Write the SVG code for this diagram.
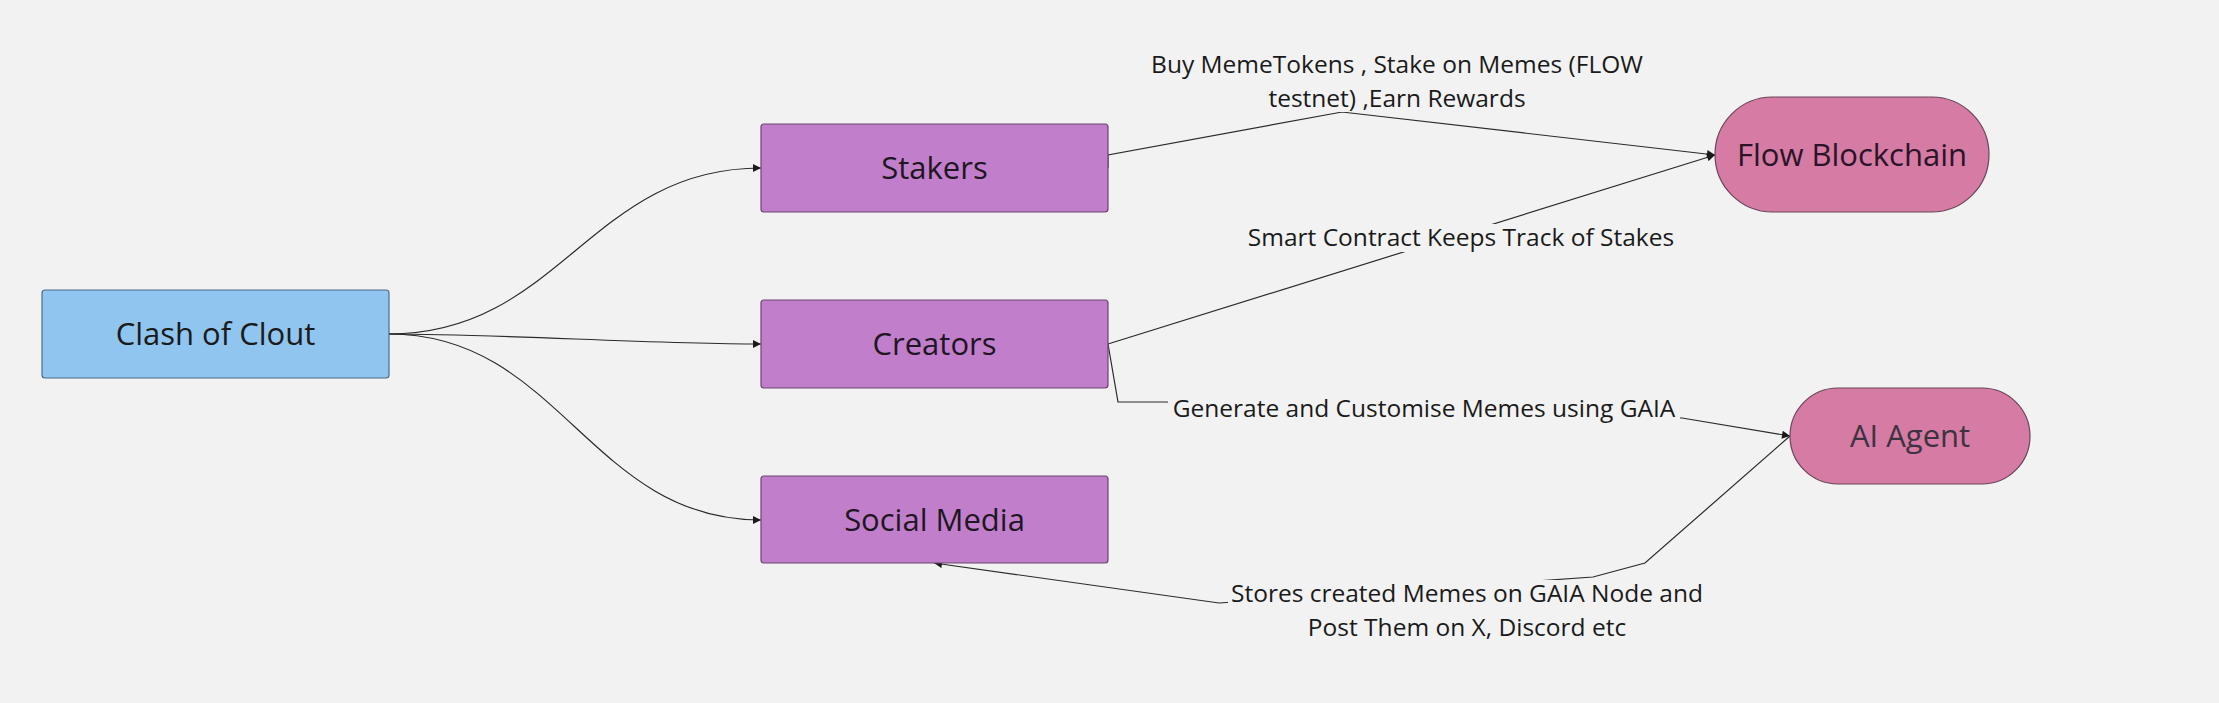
<svg xmlns="http://www.w3.org/2000/svg" width="2219" height="703" viewBox="0 0 2219 703">
<style>
.bg{fill:#f2f2f2}
.node text{font-family:"Open Sans","Noto Sans",sans-serif;font-size:31px;text-anchor:middle}
.lbl{font-family:"Open Sans","Noto Sans",sans-serif;font-size:24.5px;fill:#1a1a1a;text-anchor:middle}
.lblbg{fill:#f2f2f2}
.edge{fill:none;stroke:#2a2a2a;stroke-width:1.2}
.blue{fill:#8fc5ef;stroke:#4d6b86;stroke-width:1.2}
.purple{fill:#c17fcb;stroke:#6a4670;stroke-width:1.2}
.pink{fill:#d57ba4;stroke:#6a4458;stroke-width:1.2}
</style>
<defs>
<marker id="arr" viewBox="0 0 10 10" refX="10" refY="5" markerWidth="10" markerHeight="8" markerUnits="userSpaceOnUse" orient="auto">
<path d="M0,0 L10,5 L0,10 z" fill="#1a1a1a"/>
</marker>
</defs>
<rect class="bg" x="0" y="0" width="2219" height="703"/>
<g id="connectors">
<path class="edge" d="M389,334 C560,334 590,168 761,168" marker-end="url(#arr)"/>
<path class="edge" d="M389,334 C500,334 650,344 761,344" marker-end="url(#arr)"/>
<path class="edge" d="M389,334 C560,334 590,520 761,520" marker-end="url(#arr)"/>
<path class="edge" d="M1108,168 L1108,155 L1342,112 L1715,155" marker-end="url(#arr)"/>
<path class="edge" d="M1108,344 L1715,155" marker-end="url(#arr)"/>
<path class="edge" d="M1108,344 L1118,402 L1165,402 L1682,418 L1790,436" marker-end="url(#arr)"/>
<path class="edge" d="M1790,436 L1645,563 L1593,577 L1219,603 L934,563" marker-end="url(#arr)"/>
</g>
<g id="labels">
<g id="label-buy">
<rect class="lblbg" x="1148" y="50" width="498" height="62"/>
<text class="lbl" x="1397" y="73">Buy MemeTokens , Stake on Memes (FLOW</text>
<text class="lbl" x="1397" y="107">testnet) ,Earn Rewards</text>
</g>
<g id="label-smart">
<rect class="lblbg" x="1245" y="224" width="432" height="28"/>
<text class="lbl" x="1461" y="246">Smart Contract Keeps Track of Stakes</text>
</g>
<g id="label-generate">
<rect class="lblbg" x="1168" y="394" width="512" height="30"/>
<text class="lbl" x="1424" y="417">Generate and Customise Memes using GAIA</text>
</g>
<g id="label-stores">
<rect class="lblbg" x="1228" y="580" width="481" height="68"/>
<text class="lbl" x="1467" y="602">Stores created Memes on GAIA Node and</text>
<text class="lbl" x="1467" y="636">Post Them on X, Discord etc</text>
</g>
</g>
<g id="clash" class="node">
<rect class="blue" x="42" y="290" width="347" height="88" rx="3"/>
<text x="215.5" y="345" fill="#1a1a1a">Clash of Clout</text>
</g>
<g id="stakers" class="node">
<rect class="purple" x="761" y="124" width="347" height="88" rx="3"/>
<text x="934.5" y="179" fill="#1e1622">Stakers</text>
</g>
<g id="creators" class="node">
<rect class="purple" x="761" y="300" width="347" height="88" rx="3"/>
<text x="934.5" y="355" fill="#1e1622">Creators</text>
</g>
<g id="social" class="node">
<rect class="purple" x="761" y="476" width="347" height="87" rx="3"/>
<text x="934.5" y="531" fill="#1e1622">Social Media</text>
</g>
<g id="flow" class="node">
<rect class="pink" x="1715" y="97" width="274" height="115" rx="57.5"/>
<text x="1852" y="166" fill="#2b1427">Flow Blockchain</text>
</g>
<g id="ai" class="node">
<rect class="pink" x="1790" y="388" width="240" height="96" rx="48"/>
<text x="1910" y="447" fill="#3d3340">AI Agent</text>
</g>
</svg>
